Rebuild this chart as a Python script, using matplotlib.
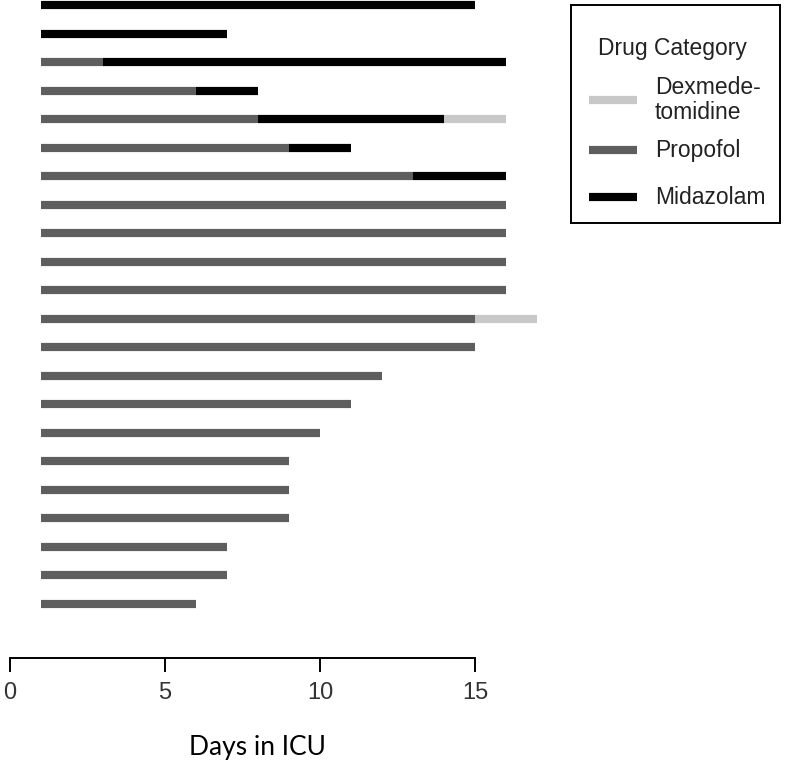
import matplotlib.pyplot as plt
from matplotlib.lines import Line2D

# one row per patient, top to bottom; every course starts on ICU day 1
icu_start = [1] * 22
propofol_end = [1, 1, 3, 6, 8, 9, 13, 16, 16, 16, 16, 15, 15, 12, 11, 10, 9, 9, 9, 7, 7, 6]
midazolam_end = [15, 7, 16, 8, 14, 11, 16, 16, 16, 16, 16, 15, 15, 12, 11, 10, 9, 9, 9, 7, 7, 6]
dexmed_end = [15, 7, 16, 8, 16, 11, 16, 16, 16, 16, 16, 17, 15, 12, 11, 10, 9, 9, 9, 7, 7, 6]

drug_names = ['Dexmede-\ntomidine', 'Propofol', 'Midazolam']
drug_colors = ['#c8c8c8', '#5e5e5e', '#000000']
x_ticks = [0, 5, 10, 15]

W, H = 786, 769
fig = plt.figure(figsize=(W / 100, H / 100), dpi=100)
ax = fig.add_axes([10 / W, 1 - 658 / H, 542.5 / W, 658 / H])

lw = 5.9
rows = range(1, len(icu_start) + 1)
for r, s, p, m, d in zip(rows, icu_start, propofol_end, midazolam_end, dexmed_end):
    if p > s:
        ax.plot([s, p], [r, r], color=drug_colors[1], lw=lw, solid_capstyle='butt')
    if m > p:
        ax.plot([p, m], [r, r], color=drug_colors[2], lw=lw, solid_capstyle='butt')
    if d > m:
        ax.plot([m, d], [r, r], color=drug_colors[0], lw=lw, solid_capstyle='butt')

step = (604 - 5) / 21
ax.set_ylim(22 + (658 - 604) / step, 1 - 5 / step)
ax.set_xlim(0, 17.5)

for side in ['top', 'right', 'left']:
    ax.spines[side].set_visible(False)
ax.spines['bottom'].set_bounds(0, 15)
ax.spines['bottom'].set_linewidth(1.4)
ax.set_yticks([])
ax.set_xticks(x_ticks)
ax.tick_params(axis='x', length=10, width=1.4, pad=7, labelsize=17,
               labelcolor='#333333', labelfontfamily='Liberation Sans')

fig.text(257 / W, 1 - 748 / H, 'Days in ICU', ha='center', va='center',
         fontsize=19, family='Lato')

# legend box drawn in pixel space
lax = fig.add_axes([571 / W, 1 - 223 / H, 209 / W, 218 / H])
lax.set_xlim(571, 780)
lax.set_ylim(223, 5)
lax.set_xticks([])
lax.set_yticks([])
for sp in lax.spines.values():
    sp.set_linewidth(1.4)
lax.text(598, 48, 'Drug Category', fontsize=16.5, va='center', ha='left',
         family='Liberation Sans', color='#222222')
entry_y = [100, 150, 197]
for name, col, y in zip(drug_names, drug_colors, entry_y):
    lax.add_line(Line2D([589, 637], [y, y], color=col, lw=lw, solid_capstyle='butt'))
    lax.text(655, y, name, fontsize=16.5, va='center', ha='left',
             family='Liberation Sans', color='#222222', linespacing=1.15)

fig.savefig('out.png', dpi=100)
